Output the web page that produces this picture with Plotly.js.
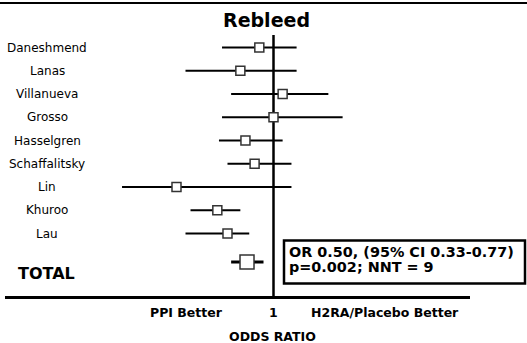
<!DOCTYPE html>
<html><head><meta charset="utf-8">
<script src="https://cdn.plot.ly/plotly-3.0.1.min.js"></script>
<style>html,body{margin:0;padding:0;background:#fff}#chart{width:527px;height:343px}</style>
</head><body><div id="chart"></div>
<script>
// ---- data ----
const chartTitle = "Rebleed";
const studies = ["Daneshmend","Lanas","Villanueva","Grosso","Hasselgren","Schaffalitsky","Lin","Khuroo","Lau"];
const oddsRatio = [0.69, 0.42, 1.27, 1.00, 0.48, 0.61, 0.079, 0.23, 0.30];
const ciLow     = [0.26, 0.10, 0.33, 0.26, 0.24, 0.30, 0.019, 0.114, 0.10];
const ciHigh    = [1.83, 1.83, 4.20, 6.10, 1.27, 1.60, 1.60, 0.42, 0.53];
const totalLabel = "TOTAL";
const totalOR = [0.50];
const totalLow = [0.33];
const totalHigh = [0.77];
const summaryLines = ["OR 0.50, (95% CI 0.33-0.77)", "p=0.002; NNT = 9"];
const axisLabels = ["PPI Better", "1", "H2RA/Placebo Better"];
const axisTitle = "ODDS RATIO";
const nullValue = 1;

// ---- layout geometry (pixels) ----
const W = 527, H = 343;
const L = 5, R = 470, T = 35, B = 296;
const rowPx = 23.25, row0Px = 47.5;
const yTop = (T - row0Px) / rowPx, yBot = (B - row0Px) / rowPx;
const pxPerDec = 88, onePx = 273.5;
const xr = [(L - onePx) / pxPerDec, (R - onePx) / pxPerDec];
const px2x = px => (px - L) / (R - L);
const px2y = py => (B - py) / (B - T);
const totalRow = (262 - row0Px) / rowPx;

const rows = studies.map((s, i) => i);

// CI segments
const segX = [], segY = [];
rows.forEach((r, i) => { segX.push(ciLow[i], ciHigh[i], null); segY.push(r, r, null); });

const traces = [
  {x: segX, y: segY, mode: 'lines', line: {color: '#000', width: 2}, hoverinfo: 'skip', showlegend: false},
  {x: [totalLow[0], totalHigh[0]], y: [totalRow, totalRow], mode: 'lines', line: {color: '#000', width: 3}, hoverinfo: 'skip', showlegend: false},
  {x: [nullValue, nullValue], y: [yTop, yBot], mode: 'lines', line: {color: '#000', width: 2.5}, cliponaxis: false, hoverinfo: 'skip', showlegend: false},
  {x: oddsRatio, y: rows, mode: 'markers', marker: {symbol: 'square', size: 9, color: '#fff', line: {color: '#333', width: 1.5}}, showlegend: false},
  {x: totalOR, y: [totalRow], mode: 'markers', marker: {symbol: 'square', size: 14, color: '#fff', line: {color: '#333', width: 1.5}}, showlegend: false}
];

const ann = [];
studies.forEach((s, i) => ann.push({text: s, xref: 'paper', x: px2x(47), yref: 'y', y: rows[i], xanchor: 'center', yanchor: 'middle', showarrow: false, font: {size: 12, color: '#000'}}));
ann.push({text: '<b>' + totalLabel + '</b>', xref: 'paper', x: px2x(46), yref: 'y', y: totalRow, yshift: -11.5, xanchor: 'center', yanchor: 'middle', showarrow: false, font: {size: 16, color: '#000'}});
ann.push({text: '<b>' + summaryLines[0] + '</b>', xref: 'paper', x: px2x(287), yref: 'paper', y: px2y(252), xanchor: 'left', yanchor: 'middle', showarrow: false, font: {size: 14.4, color: '#000'}});
ann.push({text: '<b>' + summaryLines[1] + '</b>', xref: 'paper', x: px2x(287), yref: 'paper', y: px2y(266.5), xanchor: 'left', yanchor: 'middle', showarrow: false, font: {size: 14.4, color: '#000'}});
const labelCenters = [186, 273.5, 385];
axisLabels.forEach((t, i) => ann.push({text: '<b>' + t + '</b>', xref: 'paper', x: px2x(labelCenters[i]), yref: 'paper', y: px2y(312), xanchor: 'center', yanchor: 'middle', showarrow: false, font: {size: 12.5, color: '#000'}}));
ann.push({text: '<b>' + axisTitle + '</b>', xref: 'paper', x: px2x(272.5), yref: 'paper', y: px2y(336), xanchor: 'center', yanchor: 'middle', showarrow: false, font: {size: 12.5, color: '#000'}});
ann.push({text: '<b>' + chartTitle + '</b>', xref: 'paper', x: px2x(266), yref: 'paper', y: px2y(20), xanchor: 'center', yanchor: 'middle', showarrow: false, font: {size: 19, color: '#000'}});

const shapes = [
  {type: 'line', xref: 'paper', yref: 'paper', x0: px2x(0), x1: px2x(527), y0: px2y(3), y1: px2y(3), line: {color: '#000', width: 2}},
  {type: 'rect', xref: 'paper', yref: 'paper', x0: px2x(284), x1: px2x(525), y0: px2y(240.5), y1: px2y(283.5), line: {color: '#000', width: 2.5}, fillcolor: 'rgba(0,0,0,0)'}
];

const layout = {
  width: W, height: H,
  margin: {l: L, r: W - R, t: T, b: H - B, pad: 0},
  paper_bgcolor: '#fff', plot_bgcolor: '#fff',
  font: {family: 'DejaVu Sans, Verdana, sans-serif', color: '#000'},
  showlegend: false,
  xaxis: {type: 'log', range: xr, showline: true, linewidth: 2.5, linecolor: '#000', showticklabels: false, ticks: '', showgrid: false, zeroline: false, fixedrange: true},
  yaxis: {range: [yBot, yTop], visible: false, fixedrange: true},
  annotations: ann,
  shapes: shapes
};

Plotly.newPlot('chart', traces, layout, {staticPlot: true, displayModeBar: false});
</script>
</body></html>
